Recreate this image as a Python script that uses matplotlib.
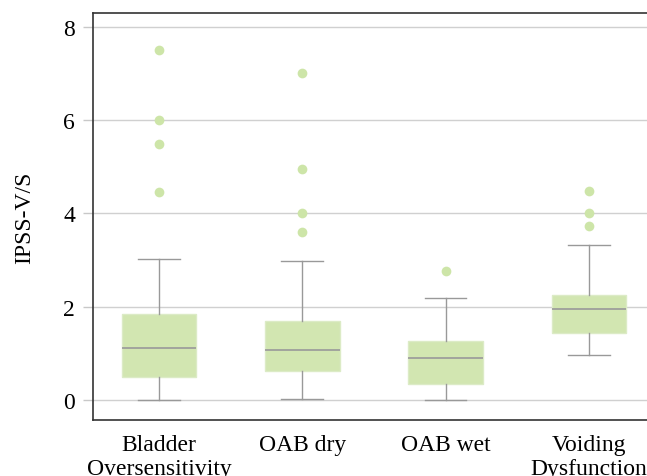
import matplotlib.pyplot as plt

plt.rcParams['font.family'] = ['Liberation Serif', 'DejaVu Serif']

groups = ['Bladder\nOversensitivity', 'OAB dry', 'OAB wet', 'Voiding\nDysfunction']
whislo = [0.0, 0.03, 0.0, 0.96]
q1 = [0.50, 0.63, 0.34, 1.44]
med = [1.11, 1.07, 0.90, 1.95]
q3 = [1.85, 1.70, 1.27, 2.26]
whishi = [3.02, 2.98, 2.18, 3.33]
fliers = [
    [7.51, 6.01, 5.49, 4.45],
    [7.02, 4.96, 4.01, 3.61],
    [2.77],
    [4.48, 4.01, 3.73],
]

stats = []
for i in range(len(groups)):
    stats.append(dict(label=groups[i], whislo=whislo[i], q1=q1[i], med=med[i],
                      q3=q3[i], whishi=whishi[i], fliers=fliers[i]))

fig = plt.figure(figsize=(6.47, 4.77), dpi=100)
ax = fig.add_axes([93 / 647, 56 / 477, 1 - 93 / 647 + 0.01, 407 / 477])

fill = '#d2e6b1'
gray = '#999999'
ax.bxp(stats, positions=range(len(groups)), widths=0.52, capwidths=0.29,
       patch_artist=True,
       boxprops=dict(facecolor=fill, edgecolor='#dcebc6', linewidth=1),
       medianprops=dict(color=gray, linewidth=1.2),
       whiskerprops=dict(color=gray, linewidth=1),
       capprops=dict(color=gray, linewidth=1),
       flierprops=dict(marker='o', markersize=7, markerfacecolor='#cde5a8',
                       markeredgecolor='none'))

ax.set_xlim(-0.46, 3.45)
ax.set_ylim(-0.43, 8.3)
ax.set_yticks([0, 2, 4, 6, 8])
ax.yaxis.grid(True, color='#d0d0d0', linewidth=1)
ax.set_axisbelow(True)

ax.tick_params(axis='y', length=7, width=1, color='#c8c8c8', labelsize=17, pad=6)
ax.tick_params(axis='x', length=0, labelsize=17, pad=10)

for side in ['left', 'top', 'bottom']:
    ax.spines[side].set_color('#333333')
    ax.spines[side].set_linewidth(1.2)
ax.spines['right'].set_visible(False)

ax.set_ylabel('IPSS-V/S', fontsize=17, labelpad=20)

plt.savefig('out.png', dpi=100)
